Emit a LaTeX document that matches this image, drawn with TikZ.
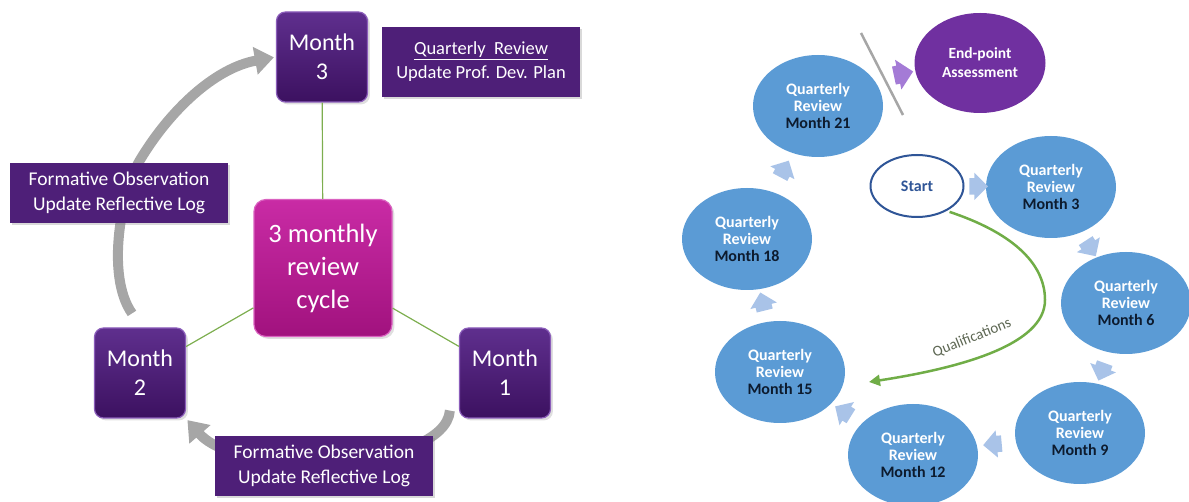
\documentclass[tikz,border=0pt]{standalone}
\usepackage{fontspec}
\setmainfont{Carlito}
\usetikzlibrary{shapes.geometric,shapes.arrows,arrows.meta,calc,shadows}
\definecolor{boxpurple}{HTML}{4E1F78}
\definecolor{monthtop}{HTML}{5F2F8E}
\definecolor{monthbot}{HTML}{3C1160}
\definecolor{monthrim}{HTML}{8B5DBA}
\definecolor{hubtop}{HTML}{C92BA5}
\definecolor{hubbot}{HTML}{A1127E}
\definecolor{hubrim}{HTML}{DA62C0}
\definecolor{spokegreen}{HTML}{7DAE4F}
\definecolor{cyclegray}{HTML}{A6A6A6}
\definecolor{qrblue}{HTML}{5B9BD5}
\definecolor{qrarrow}{HTML}{A9C3E8}
\definecolor{qrtext}{HTML}{0D1B2E}
\definecolor{startblue}{HTML}{2F5597}
\definecolor{epapurple}{HTML}{7030A0}
\definecolor{epaarrow}{HTML}{A47BD6}
\definecolor{qualgreen}{HTML}{70AD47}
\definecolor{qualtext}{HTML}{5C6652}
\tikzset{
  monthbox/.style={rounded corners=9pt, top color=monthtop, bottom color=monthbot, draw=monthrim, line width=1.2pt, text=white, align=center, minimum width=91pt, minimum height=90pt, font=\fontsize{24}{29}\selectfont, drop shadow={opacity=0.25}},
  hubbox/.style={rounded corners=12pt, top color=hubtop, bottom color=hubbot, draw=hubrim, line width=1.2pt, text=white, align=center, minimum width=138pt, minimum height=137pt, font=\fontsize{26.5}{33}\selectfont, drop shadow={opacity=0.25}},
  infobox/.style={fill=boxpurple, text=white, align=center, minimum width=218pt, minimum height=60pt, font=\fontsize{19.5}{25}\selectfont, drop shadow={opacity=0.3}},
  spoke/.style={draw=spokegreen, line width=1.2pt},
  cyclearrow/.style={draw=cyclegray, line width=10pt, -{Triangle[width=27pt,length=19pt]}, shorten >=2pt},
  qr/.style={ellipse, fill=qrblue, text=white, align=center, minimum width=130pt, minimum height=102pt, inner sep=0pt, font=\bfseries\fontsize{16}{17}\selectfont},
  startnode/.style={ellipse, draw=startblue, line width=2pt, fill=white, text=startblue, minimum width=93pt, minimum height=62pt, inner sep=0pt, font=\bfseries\fontsize{16}{17}\selectfont},
  epanode/.style={ellipse, fill=epapurple, text=white, align=center, minimum width=131pt, minimum height=100pt, inner sep=0pt, font=\bfseries\fontsize{15.5}{19}\selectfont},
  barrow/.style={single arrow, fill=qrarrow, inner xsep=5pt, inner ysep=8pt, single arrow head extend=5.5pt},
  divider/.style={draw=cyclegray, line width=2.5pt},
  qualline/.style={draw=qualgreen, line width=2.5pt, -{Triangle[width=11pt,length=11pt]}, shorten <=3pt},
  qualtext/.style={text=qualtext, font=\fontsize{15}{17}\selectfont}
}
\begin{document}
\begin{tikzpicture}[x=1pt,y=-1pt]
\useasboundingbox (0,0) rectangle (1189,502);
\newcommand\qreview[4]{
\node[qr] (#1) at (#2,#3) {Quarterly\\Review\\\textcolor{qrtext}{Month #4}};
}
\newcommand\nextarrow[4]{
\node[barrow, rotate=#4] (#1) at ($(#2)!0.5!(#3)$) {};
}
\begin{scope}
\node[monthbox] (m3) at (322,57) {Month\\3};
\node[monthbox] (m2) at (140,373) {Month\\2};
\node[monthbox] (m1) at (505,373) {Month\\1};
\node[hubbox] (hub) at (323,268) {3 monthly\\review\\cycle};
\node[infobox, minimum width=198pt, minimum height=70pt, font=\fontsize{18.5}{24}\selectfont] (plan) at (481,62) {\underline{Quarterly\ \ Review}\\Update Prof. Dev. Plan};
\path[spoke] (m3) -- (hub);
\path[spoke] (hub) -- (m2);
\path[spoke] (hub) -- (m1);
\path[cyclearrow] ([xshift=-8pt,yshift=14pt]m2.north) .. controls (105,275) and (122,190) .. (140,160) .. controls (170,110) and (215,68) .. (m3.west);
\path[cyclearrow] ([xshift=-9pt,yshift=8pt]m1.south west) .. controls (445,470) and (240,480) .. (m2.south east);
\node[infobox] (obs2) at (119,193) {Formative Observation\\Update Reflective Log};
\node[infobox] (obs1) at (324,466) {Formative Observation\\Update Reflective Log};
\end{scope}
\begin{scope}
\qreview{q21}{818}{106}{21}
\qreview{q3}{1051}{187}{3}
\qreview{q6}{1126}{303}{6}
\qreview{q9}{1080}{433}{9}
\qreview{q12}{913}{455}{12}
\qreview{q15}{780}{372}{15}
\qreview{q18}{747}{239}{18}
\node[startnode] (start) at (917,186) {Start};
\node[epanode] (epa) at (980,63) {End-point\\Assessment};
\node[barrow] (s0) at ($(start)!0.43!(q3)$) {};
\nextarrow{s3}{q3}{q6}{-57}
\nextarrow{s6}{q6}{q9}{-110}
\nextarrow{s9}{q9}{q12}{-175}
\nextarrow{s12}{q12}{q15}{148}
\nextarrow{s15}{q15}{q18}{104}
\nextarrow{s18}{q18}{q21}{62}
\node[barrow, fill=epaarrow, inner ysep=9pt, single arrow head extend=6pt, rotate=12] (s21) at ($(q21)!0.5!(epa)+(0,-10)$) {};
\path[divider] (861,33) -- (903,115);
\coordinate (qualend) at (869,382);
\path[qualline] (start.-40) .. controls (1010,232) and (1045,262) .. (1045,300) .. controls (1045,345) and (960,368) .. (qualend);
\node[qualtext, rotate=22] (qual) at (972,338) {Qualifications};
\end{scope}
\end{tikzpicture}
\end{document}
